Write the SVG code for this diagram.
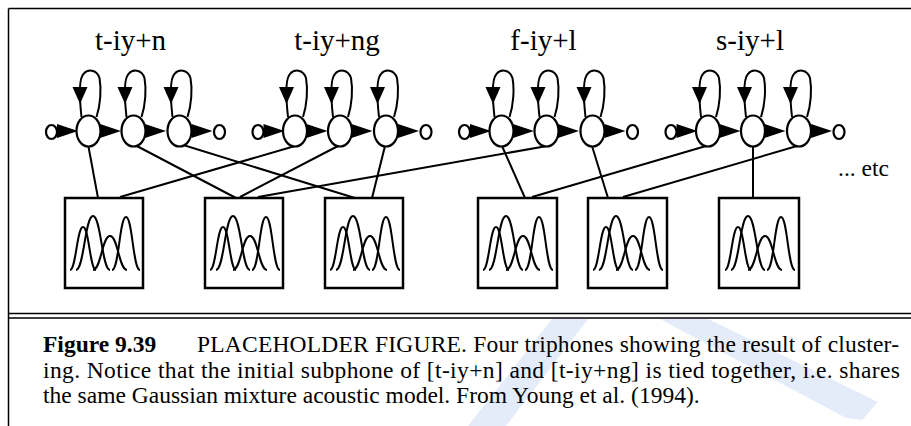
<svg xmlns="http://www.w3.org/2000/svg" xmlns:xlink="http://www.w3.org/1999/xlink" width="911" height="426" viewBox="0 0 911 426">
<style>
.ln{stroke:#000;stroke-width:2;fill:none}
.st{fill:#fff;stroke:#000;stroke-width:2.2}
.sm{fill:#fff;stroke:#000;stroke-width:2.2}
.ar{fill:#000;stroke:none}
.bx{fill:#fff;stroke:#000;stroke-width:2.5}
.g{fill:none;stroke:#000;stroke-width:2}
.fr{stroke:#000;stroke-width:1.5;fill:none}
.lab{font-family:"Liberation Serif","Times New Roman",serif;font-size:29px;text-anchor:middle}
.cap{font-family:"Liberation Serif","Times New Roman",serif;font-size:23.5px}
.wm{fill:#e4ecfa;stroke:none}
</style>
<defs>
<g id="gauss">
<path class="g" d="M5,72 C11,72 12,29 18,29 C24,29 25,72 31,72"/>
<path class="g" d="M11,72 C19,72 20,18 28,18 C36,18 37,72 45,72"/>
<path class="g" d="M28,72 C36,72 37,38 45,38 C53,38 54,72 62,72"/>
<path class="g" d="M47,72 C54,72 54.5,19 61,19 C67.5,19 68,72 75,72"/>
</g>
<g id="loop">
<path class="ln" d="M-7,-14 C-9,-32 -10,-52 -5,-57 C-1,-62 8,-62 11,-53 C13,-42 12,-26 8,-14"/>
<polygon class="ar" points="-16,-44 -1,-44 -8.5,-27"/>
</g>
<g id="state">
<use xlink:href="#loop"/>
<ellipse class="st" cx="0" cy="0" rx="12" ry="15.5"/>
</g>
<g id="trans">
<polygon class="ar" points="0,-7 0,7 21,0"/>
</g>
</defs>

<g id="watermark">
<polygon class="wm" points="552,319 588,319 506,426 468,426"/>
<polygon class="wm" points="660,319 708,319 878,402 862,420 846,418"/>
</g>

<g id="frame">
<path class="fr" d="M8.5,8.5 H911 M8.5,8.5 V426 M8.5,313.5 H911 M8.5,318 H911"/>
</g>

<g id="labels">
<text class="lab" x="130.5" y="50">t-iy+n</text>
<text class="lab" x="337" y="50">t-iy+ng</text>
<text class="lab" x="543.5" y="50">f-iy+l</text>
<text class="lab" x="750" y="50">s-iy+l</text>
</g>

<g id="connectors">
<line class="ln" x1="88" y1="144" x2="98" y2="198"/>
<line class="ln" x1="133" y1="144" x2="236" y2="198"/>
<line class="ln" x1="180" y1="144" x2="355" y2="198"/>
<line class="ln" x1="295" y1="146" x2="120" y2="197"/>
<line class="ln" x1="338" y1="146" x2="240" y2="197"/>
<line class="ln" x1="385" y1="146" x2="372" y2="198"/>
<line class="ln" x1="502" y1="146" x2="525" y2="198"/>
<line class="ln" x1="547" y1="146" x2="258" y2="197"/>
<line class="ln" x1="592" y1="146" x2="608" y2="198"/>
<line class="ln" x1="706" y1="146" x2="532" y2="197"/>
<line class="ln" x1="753" y1="146" x2="753" y2="198"/>
<line class="ln" x1="797" y1="146" x2="623" y2="197"/>
<use xlink:href="#trans" x="57" y="131"/>
<use xlink:href="#trans" x="100" y="131"/>
<use xlink:href="#trans" x="145" y="131"/>
<use xlink:href="#trans" x="191.5" y="131"/>
<use xlink:href="#trans" x="263.5" y="131"/>
<use xlink:href="#trans" x="306.5" y="131"/>
<use xlink:href="#trans" x="351.5" y="131"/>
<use xlink:href="#trans" x="398" y="131"/>
<use xlink:href="#trans" x="470" y="131"/>
<use xlink:href="#trans" x="513" y="131"/>
<use xlink:href="#trans" x="558" y="131"/>
<use xlink:href="#trans" x="604.5" y="131"/>
<use xlink:href="#trans" x="676.5" y="131"/>
<use xlink:href="#trans" x="719.5" y="131"/>
<use xlink:href="#trans" x="764.5" y="131"/>
<use xlink:href="#trans" x="811" y="131"/>
</g>

<g id="hmm1">
<g id="t1-entry"><ellipse class="sm" cx="51.5" cy="132" rx="5.5" ry="7"/></g>
<g id="t1-s1"><use xlink:href="#state" x="88.5" y="131"/></g>
<g id="t1-s2"><use xlink:href="#state" x="133.5" y="131"/></g>
<g id="t1-s3"><use xlink:href="#state" x="179.5" y="131"/></g>
<g id="t1-exit"><ellipse class="sm" cx="219.5" cy="132" rx="5.5" ry="7"/></g>
</g>
<g id="hmm2">
<g id="t2-entry"><ellipse class="sm" cx="258" cy="132" rx="5.5" ry="7"/></g>
<g id="t2-s1"><use xlink:href="#state" x="295" y="131"/></g>
<g id="t2-s2"><use xlink:href="#state" x="340" y="131"/></g>
<g id="t2-s3"><use xlink:href="#state" x="386" y="131"/></g>
<g id="t2-exit"><ellipse class="sm" cx="426" cy="132" rx="5.5" ry="7"/></g>
</g>
<g id="hmm3">
<g id="t3-entry"><ellipse class="sm" cx="464.5" cy="132" rx="5.5" ry="7"/></g>
<g id="t3-s1"><use xlink:href="#state" x="501.5" y="131"/></g>
<g id="t3-s2"><use xlink:href="#state" x="546.5" y="131"/></g>
<g id="t3-s3"><use xlink:href="#state" x="592.5" y="131"/></g>
<g id="t3-exit"><ellipse class="sm" cx="632.5" cy="132" rx="5.5" ry="7"/></g>
</g>
<g id="hmm4">
<g id="t4-entry"><ellipse class="sm" cx="671" cy="132" rx="5.5" ry="7"/></g>
<g id="t4-s1"><use xlink:href="#state" x="708" y="131"/></g>
<g id="t4-s2"><use xlink:href="#state" x="753" y="131"/></g>
<g id="t4-s3"><use xlink:href="#state" x="799" y="131"/></g>
<g id="t4-exit"><ellipse class="sm" cx="839" cy="132" rx="5.5" ry="7"/></g>
</g>

<g id="box1"><rect class="bx" x="65" y="198" width="78" height="90"/><use xlink:href="#gauss" x="65" y="198"/></g>
<g id="box2"><rect class="bx" x="205" y="198" width="78" height="90"/><use xlink:href="#gauss" x="205" y="198"/></g>
<g id="box3"><rect class="bx" x="325" y="198" width="78" height="90"/><use xlink:href="#gauss" x="325" y="198"/></g>
<g id="box4"><rect class="bx" x="478" y="198" width="79" height="90"/><use xlink:href="#gauss" x="478" y="198"/></g>
<g id="box5"><rect class="bx" x="588" y="198" width="79" height="90"/><use xlink:href="#gauss" x="588" y="198"/></g>
<g id="box6"><rect class="bx" x="719" y="198" width="80" height="90"/><use xlink:href="#gauss" x="720" y="198"/></g>

<text class="cap" x="838" y="176">... etc</text>

<g id="caption">
<text class="cap" x="43" y="352" font-weight="bold">Figure 9.39</text>
<text class="cap" x="197" y="352" textLength="702" lengthAdjust="spacing">PLACEHOLDER FIGURE. Four triphones showing the result of cluster-</text>
<text class="cap" x="43" y="378" textLength="857" lengthAdjust="spacing">ing. Notice that the initial subphone of [t-iy+n] and [t-iy+ng] is tied together, i.e. shares</text>
<text class="cap" x="43" y="403">the same Gaussian mixture acoustic model. From Young et al. (1994).</text>
</g>
</svg>
